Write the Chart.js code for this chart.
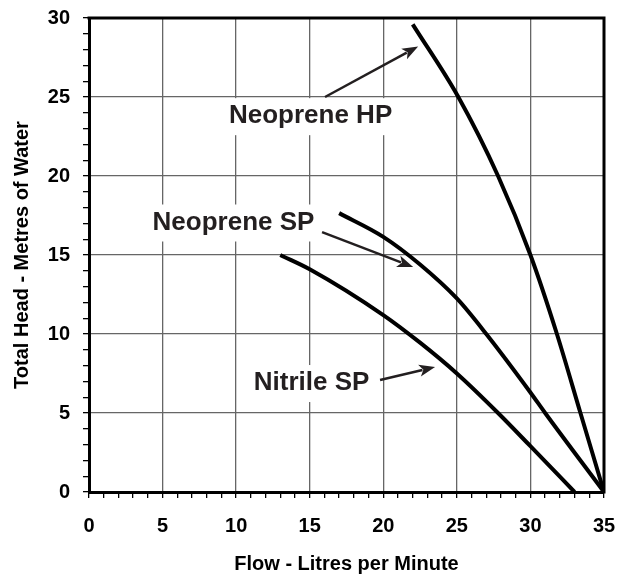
<!DOCTYPE html>
<html>
<head>
<meta charset="utf-8">
<script src="https://cdn.jsdelivr.net/npm/chart.js@4"></script>
<style>
  body { margin: 0; background: #fff; }
  #wrap { width: 625px; height: 576px; }
</style>
</head>
<body>
<div id="wrap"><canvas id="pumpChart" width="625" height="576"></canvas></div>
<script>
// Pump curves - flow (L/min) vs head (m)
const hpFlow = [22, 25.1, 27.8, 30, 31.8, 33.4, 35];
const hpHead = [29.6, 25, 20, 15, 10, 5, 0];

const neoSpFlow = [17, 20, 22.5, 25, 27, 30, 31, 35];
const neoSpHead = [17.65, 16.15, 14.4, 12.25, 10, 6.3, 5, 0];

const nitSpFlow = [13, 15, 20, 22.5, 25, 27.8, 30, 33];
const nitSpHead = [15, 14.1, 11.2, 9.45, 7.5, 5.0, 2.9, 0];

const seriesNames = ['Neoprene HP', 'Neoprene SP', 'Nitrile SP'];

// callout labels and arrows, in axis units
const notes = [
  { text: 'Neoprene HP', x: 15.06, y: 23.85, from: [16.04, 25.0], to: [22.37, 28.2] },
  { text: 'Neoprene SP', x: 9.82, y: 17.12, from: [15.84, 16.45], to: [22.03, 14.24] },
  { text: 'Nitrile SP', x: 15.13, y: 6.96, from: [19.78, 7.09], to: [23.52, 7.91] }
];

const FONT = '"Liberation Sans", Arial, Helvetica, sans-serif';
Chart.defaults.font.family = FONT;
Chart.defaults.color = '#000';

function toPoints(xs, ys) {
  return xs.map((x, i) => ({ x: x, y: ys[i] }));
}

function curve(label, xs, ys) {
  return {
    label: label,
    data: toPoints(xs, ys),
    showLine: true,
    borderColor: '#000',
    borderWidth: 4,
    pointRadius: 0,
    cubicInterpolationMode: 'monotone',
    fill: false
  };
}

function drawArrow(ctx, x1, y1, x2, y2) {
  const ang = Math.atan2(y2 - y1, x2 - x1);
  const headLen = 16, headHalf = 6;
  const bx = x2 - headLen * Math.cos(ang);
  const by = y2 - headLen * Math.sin(ang);
  ctx.strokeStyle = '#231f20';
  ctx.fillStyle = '#231f20';
  ctx.lineWidth = 2.5;
  ctx.beginPath();
  ctx.moveTo(x1, y1);
  ctx.lineTo(bx + 3 * Math.cos(ang), by + 3 * Math.sin(ang));
  ctx.stroke();
  ctx.beginPath();
  ctx.moveTo(x2, y2);
  ctx.lineTo(bx + headHalf * Math.sin(ang), by - headHalf * Math.cos(ang));
  ctx.lineTo(bx + 4 * Math.cos(ang), by + 4 * Math.sin(ang));
  ctx.lineTo(bx - headHalf * Math.sin(ang), by + headHalf * Math.cos(ang));
  ctx.closePath();
  ctx.fill();
}

const calloutPlugin = {
  id: 'callouts',
  beforeDatasetsDraw(chart) {
    const ctx = chart.ctx;
    const xs = chart.scales.x, ys = chart.scales.y;
    ctx.save();
    ctx.font = 'bold 26px ' + FONT;
    notes.forEach(n => {
      const px = xs.getPixelForValue(n.x);
      const py = ys.getPixelForValue(n.y);
      const w = ctx.measureText(n.text).width;
      ctx.fillStyle = '#fff';
      ctx.fillRect(px - w / 2 - 6, py - 17, w + 12, 37);
    });
    ctx.restore();
  },
  afterDatasetsDraw(chart) {
    const ctx = chart.ctx;
    const xs = chart.scales.x, ys = chart.scales.y;
    const a = chart.chartArea;
    ctx.save();
    // top and right frame
    ctx.strokeStyle = '#000';
    ctx.lineWidth = 3;
    ctx.beginPath();
    ctx.moveTo(a.left - 1.5, a.top);
    ctx.lineTo(a.right, a.top);
    ctx.lineTo(a.right, a.bottom + 1.5);
    ctx.stroke();

    ctx.font = 'bold 26px ' + FONT;
    ctx.textAlign = 'center';
    ctx.textBaseline = 'middle';
    notes.forEach(n => {
      ctx.fillStyle = '#231f20';
      ctx.fillText(n.text, xs.getPixelForValue(n.x), ys.getPixelForValue(n.y) + 1);
      drawArrow(ctx,
        xs.getPixelForValue(n.from[0]), ys.getPixelForValue(n.from[1]),
        xs.getPixelForValue(n.to[0]), ys.getPixelForValue(n.to[1]));
    });
    ctx.restore();
  }
};

const gridColor = c => (c.tick && c.tick.value % 5 === 0) ? '#666' : 'rgba(0,0,0,0)';
const majorOnly = v => (v % 5 === 0 ? v : '');

const config = {
  type: 'scatter',
  data: {
    datasets: [
      curve(seriesNames[0], hpFlow, hpHead),
      curve(seriesNames[1], neoSpFlow, neoSpHead),
      curve(seriesNames[2], nitSpFlow, nitSpHead)
    ]
  },
  options: {
    responsive: false,
    animation: false,
    layout: {
      padding: { left: 0, top: 18, right: 21, bottom: 0 }
    },
    plugins: {
      legend: { display: false },
      tooltip: { enabled: false }
    },
    scales: {
      x: {
        type: 'linear',
        min: 0,
        max: 35,
        afterFit: s => {
          s.height = 84;
          s.paddingLeft = 0;
          s.paddingRight = 0;
        },
        ticks: {
          stepSize: 1,
          autoSkip: false,
          maxRotation: 0,
          padding: 16,
          font: { size: 20, weight: 'bold' },
          callback: majorOnly
        },
        grid: {
          color: gridColor,
          lineWidth: 1.3,
          tickColor: '#000',
          tickLength: 6
        },
        border: { color: '#000', width: 3 },
        title: {
          display: true,
          text: 'Flow - Litres per Minute',
          font: { size: 20, weight: 'bold' },
          padding: { top: 0, bottom: 0 }
        }
      },
      y: {
        type: 'linear',
        min: 0,
        max: 30,
        afterFit: s => {
          s.width = 89;
          s.paddingTop = 0;
          s.paddingBottom = 0;
        },
        ticks: {
          stepSize: 1,
          autoSkip: false,
          padding: 13,
          font: { size: 20, weight: 'bold' },
          callback: majorOnly
        },
        grid: {
          color: gridColor,
          lineWidth: 1.3,
          tickColor: '#000',
          tickLength: 6
        },
        border: { color: '#000', width: 3 },
        title: {
          display: true,
          text: 'Total Head - Metres of Water',
          font: { size: 20, weight: 'bold' },
          padding: { top: 10, bottom: 0 }
        }
      }
    }
  },
  plugins: [calloutPlugin]
};

const pumpChart = new Chart(document.getElementById('pumpChart'), config);
</script>
</body>
</html>
